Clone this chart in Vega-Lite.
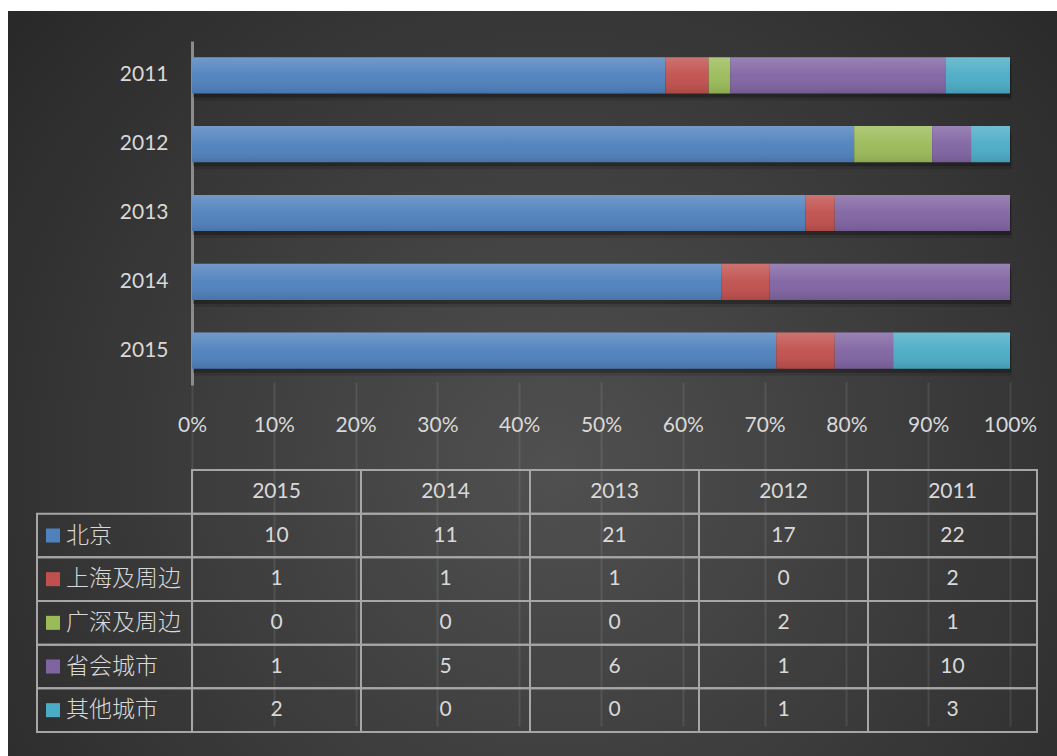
{
  "$schema": "https://vega.github.io/schema/vega-lite/v6.json",
  "width": 1049,
  "height": 745,
  "autosize": {"type": "none"},
  "padding": {"left": 8, "top": 11, "right": 0, "bottom": 0},
  "background": "#ffffff",
  "config": {
    "view": {
      "stroke": null,
      "fill": {
        "gradient": "radial",
        "x1": 0.52, "y1": 0.58, "r1": 0,
        "x2": 0.52, "y2": 0.58, "r2": 0.72,
        "stops": [
          {"offset": 0, "color": "#505050"},
          {"offset": 1, "color": "#262626"}
        ]
      }
    },
    "font": "Lato"
  },
  "datasets": {
    "counts": [
      {"year": "2015", "series": "北京", "n": 10},
      {"year": "2015", "series": "上海及周边", "n": 1},
      {"year": "2015", "series": "广深及周边", "n": 0},
      {"year": "2015", "series": "省会城市", "n": 1},
      {"year": "2015", "series": "其他城市", "n": 2},
      {"year": "2014", "series": "北京", "n": 11},
      {"year": "2014", "series": "上海及周边", "n": 1},
      {"year": "2014", "series": "广深及周边", "n": 0},
      {"year": "2014", "series": "省会城市", "n": 5},
      {"year": "2014", "series": "其他城市", "n": 0},
      {"year": "2013", "series": "北京", "n": 21},
      {"year": "2013", "series": "上海及周边", "n": 1},
      {"year": "2013", "series": "广深及周边", "n": 0},
      {"year": "2013", "series": "省会城市", "n": 6},
      {"year": "2013", "series": "其他城市", "n": 0},
      {"year": "2012", "series": "北京", "n": 17},
      {"year": "2012", "series": "上海及周边", "n": 0},
      {"year": "2012", "series": "广深及周边", "n": 2},
      {"year": "2012", "series": "省会城市", "n": 1},
      {"year": "2012", "series": "其他城市", "n": 1},
      {"year": "2011", "series": "北京", "n": 22},
      {"year": "2011", "series": "上海及周边", "n": 2},
      {"year": "2011", "series": "广深及周边", "n": 1},
      {"year": "2011", "series": "省会城市", "n": 10},
      {"year": "2011", "series": "其他城市", "n": 3}
    ]
  },
  "layer": [
    {
      "data": {"name": "counts"},
      "transform": [
        {"calculate": "indexof(['北京','上海及周边','广深及周边','省会城市','其他城市'], datum.series)", "as": "k"}
      ],
      "encoding": {
        "y": {
          "field": "year", "type": "nominal",
          "scale": {"domain": ["2011", "2012", "2013", "2014", "2015"], "range": [30, 374], "paddingInner": 0.4737, "paddingOuter": 0.2368},
          "axis": {"orient": "left", "offset": -184, "domain": true, "domainColor": "#8c8c8c", "domainWidth": 3, "ticks": false, "grid": false, "labelColor": "#d9d9d9", "labelFontSize": 21, "labelFont": "Lato", "labelPadding": 24, "title": null}
        },
        "x": {
          "field": "n", "type": "quantitative", "stack": "normalize",
          "scale": {"domain": [0, 1], "range": [184, 1002], "nice": false},
          "axis": {"orient": "bottom", "offset": -371, "values": [0, 0.1, 0.2, 0.3, 0.4, 0.5, 0.6, 0.7, 0.8, 0.9, 1], "format": ".0%", "domain": false, "ticks": false, "grid": true, "gridColor": "#ffffff", "gridOpacity": 0.09, "gridWidth": 2, "labelColor": "#d9d9d9", "labelFontSize": 21, "labelFont": "Lato", "labelPadding": 40, "labelBaseline": "middle", "labelFlush": false, "labelOverlap": false, "title": null}
        },
        "order": {"field": "k", "type": "quantitative"}
      },
      "layer": [
        {"mark": {"type": "bar", "color": "#000000", "opacity": 0.12, "yOffset": 7, "xOffset": 2}},
        {"mark": {"type": "bar", "color": "#000000", "opacity": 0.25, "yOffset": 4, "xOffset": 1}},
        {
          "mark": {"type": "bar", "opacity": 1},
          "encoding": {
            "color": {"field": "series", "type": "nominal", "scale": {"domain": ["北京", "上海及周边", "广深及周边", "省会城市", "其他城市"], "range": ["#4F81BD", "#C0504D", "#9BBB59", "#8064A2", "#4BACC6"]}, "legend": null}
          }
        },
        {
          "mark": {
            "type": "bar",
            "color": {
              "gradient": "linear", "x1": 0, "y1": 0, "x2": 0, "y2": 1,
              "stops": [
                {"offset": 0, "color": "rgba(255,255,255,0.2)"},
                {"offset": 0.5, "color": "rgba(255,255,255,0.04)"},
                {"offset": 1, "color": "rgba(0,0,0,0.1)"}
              ]
            }
          }
        }
      ]
    },
    {
      "data": {"name": "counts"},
      "encoding": {
        "x": {"field": "year", "type": "nominal", "scale": {"domain": ["2015", "2014", "2013", "2012", "2011"], "range": [184, 1029], "paddingInner": 0, "paddingOuter": 0}, "axis": null},
        "y": {"field": "series", "type": "nominal", "scale": {"domain": ["年份", "北京", "上海及周边", "广深及周边", "省会城市", "其他城市"], "range": [459, 721], "paddingInner": 0, "paddingOuter": 0}, "axis": null}
      },
      "layer": [
        {"mark": {"type": "rect", "fill": "transparent", "stroke": "#a6a6a6", "strokeWidth": 2}},
        {
          "transform": [{"filter": "datum.series === '北京'"}],
          "mark": {"type": "rect", "fill": "transparent", "stroke": "#a6a6a6", "strokeWidth": 2},
          "encoding": {"y": {"datum": "年份", "type": "nominal"}}
        },
        {
          "mark": {"type": "text", "color": "#d9d9d9", "fontSize": 21, "font": "Lato", "align": "center", "baseline": "middle"},
          "encoding": {"text": {"field": "n", "type": "quantitative"}}
        },
        {
          "transform": [{"filter": "datum.series === '北京'"}],
          "mark": {"type": "text", "color": "#d9d9d9", "fontSize": 21, "font": "Lato", "align": "center", "baseline": "middle"},
          "encoding": {"y": {"datum": "年份", "type": "nominal"}, "text": {"field": "year", "type": "nominal"}}
        }
      ]
    },
    {
      "data": {"name": "counts"},
      "transform": [{"filter": "datum.year === '2015'"}],
      "encoding": {
        "x": {"datum": "lab", "type": "nominal", "scale": {"domain": ["lab"], "range": [29, 184], "paddingInner": 0, "paddingOuter": 0}, "axis": null},
        "y": {"field": "series", "type": "nominal", "scale": {"domain": ["年份", "北京", "上海及周边", "广深及周边", "省会城市", "其他城市"], "range": [459, 721], "paddingInner": 0, "paddingOuter": 0}, "axis": null}
      },
      "layer": [
        {"mark": {"type": "rect", "fill": "transparent", "stroke": "#a6a6a6", "strokeWidth": 2}},
        {
          "mark": {"type": "square", "size": 196, "opacity": 1, "xOffset": -61.5},
          "encoding": {
            "color": {"field": "series", "type": "nominal", "scale": {"domain": ["北京", "上海及周边", "广深及周边", "省会城市", "其他城市"], "range": ["#4F81BD", "#C0504D", "#9BBB59", "#8064A2", "#4BACC6"]}, "legend": null}
          }
        },
        {
          "mark": {"type": "text", "color": "#d9d9d9", "fontSize": 23, "fontWeight": 300, "font": "Noto Sans CJK SC", "align": "left", "baseline": "middle", "dx": -48.5},
          "encoding": {"text": {"field": "series", "type": "nominal"}}
        }
      ]
    }
  ],
  "resolve": {"scale": {"x": "independent", "y": "independent"}, "axis": {"x": "independent", "y": "independent"}}
}
